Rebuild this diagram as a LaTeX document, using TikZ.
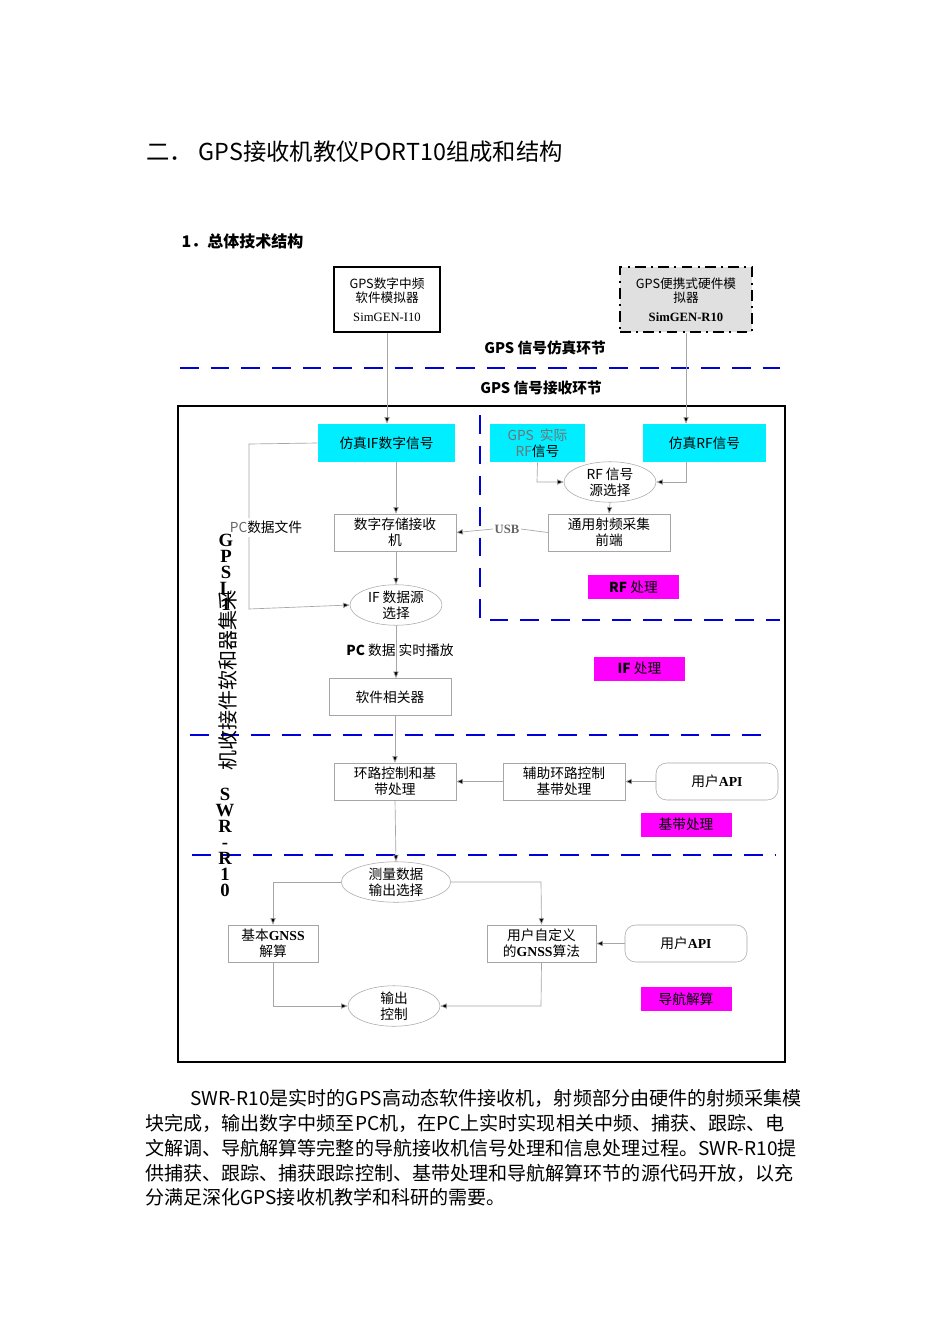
\documentclass[tikz,border=0pt]{standalone}
\usepackage{fontspec}
\setmainfont{Liberation Serif}
\newfontfamily\cjk{Noto Sans CJK SC}
\usetikzlibrary{shapes.geometric,arrows.meta}
\definecolor{cy}{RGB}{0,238,255}
\definecolor{mg}{RGB}{255,0,255}
\begin{document}
\begin{tikzpicture}[x=0.75pt,y=-0.75pt,
  every node/.style={font=\cjk\fontsize{10.3}{12}\selectfont, align=center, inner sep=1pt},
  wbox/.style={draw=black!35, fill=white, minimum width=91.5pt, minimum height=27.75pt},
  cyanbox/.style={fill=cy, minimum width=102.75pt, minimum height=28.5pt},
  magbox/.style={fill=mg, minimum width=68.25pt, minimum height=18pt},
  ell/.style={draw=black!35, ellipse, fill=white, minimum width=69pt, minimum height=26pt, inner sep=0pt},
  apibox/.style={draw=black!35, rounded corners=8pt, fill=white, minimum width=91.5pt, minimum height=27.75pt},
  conn/.style={draw=black!35, line width=0.5pt},
  arr/.style={conn, -{Triangle[length=5pt,width=4pt,fill=black]}},
  sep/.style={draw=blue!85!black, line width=1.3pt, dash pattern=on 14pt off 9pt},
  lat/.style={font=\fontsize{9.5}{11}\selectfont\bfseries}]
\useasboundingbox (0,0) rectangle (950,1344);
\fill[white] (0,0) rectangle (950,1344);
\node[anchor=west,font=\cjk\fontsize{17.5}{20}\selectfont] (title) at (145,152) {二．\ GPS接收机教仪PORT10组成和结构};
\node[anchor=west,font=\cjk\fontsize{12}{14}\selectfont\bfseries] (sub) at (180,241) {1．总体技术结构};
% simulators
\node[draw, line width=2.2pt, minimum width=79.5pt, minimum height=48.75pt, font=\cjk\fontsize{9.5}{11}\selectfont] (sim1) at (387,299.5) {GPS数字中频\\软件模拟器\\[3pt]{\rmfamily SimGEN-I10}};
\node[draw, fill=black!12, line width=1.6pt, dash pattern=on 8pt off 4pt on 1.5pt off 4pt, minimum width=99pt, minimum height=48.75pt, font=\cjk\fontsize{9.5}{11}\selectfont] (sim2) at (686,299.5) {GPS便携式硬件模\\拟器\\[3pt]{\rmfamily\bfseries SimGEN-R10}};
\node[font=\cjk\fontsize{11}{13}\selectfont\bfseries] (l1) at (545,348) {GPS 信号仿真环节};
\draw[sep] (180,368) -- (780,368);
\node[font=\cjk\fontsize{11}{13}\selectfont\bfseries] (l2) at (541,388) {GPS 信号接收环节};
\draw[line width=2.2pt] (178,406) rectangle (785,1062);
% top row
\node[cyanbox] (ifsig) at (386.5,443) {仿真IF数字信号};
\node[cyanbox, minimum width=71pt] (gpsrf) at (537.5,443) {{\color{black!55}GPS\ \ 实际}\\{\color{black!55}RF}信号};
\node[cyanbox, minimum width=92pt] (simrf) at (704.5,443) {仿真RF信号};
\draw[arr] (sim1.south) -- (ifsig.north -| sim1.south);
\draw[arr] (sim2.south) -- (simrf.north -| sim2.south);
\draw[sep, line width=1.2pt] (480,415) -- (480,620) -- (780,620);
\node[ell] (rfsel) at (610,482) {RF 信号\\源选择};
\node[wbox] (front) at (609,532.5) {通用射频采集\\前端};
\node[wbox] (store) at (395,532.5) {数字存储接收\\机};
\node[lat, text=black!60] (usb) at (507,529) {USB};
\node[magbox] (rfp) at (633.5,587) {{\bfseries RF} 处理};
\draw[arr] (gpsrf.south) -- (537,482) -- (rfsel.west);
\draw[arr] (686,462) -- (686,482) -- (rfsel.east);
\draw[arr] (rfsel.south) -- (front.north);
\draw[arr] (front.west) -- (usb.east) (usb.west) -- (store.east);
\draw[arr] (ifsig.south -| 396,0) -- (store.north -| 396,0);
\node[ell] (ifsel) at (396,605) {IF 数据源\\选择};
\node (pcfile) at (266,527) {{\color{black!60}PC}数据文件};
\coordinate (pa) at (249,518);
\coordinate (pb) at (249,537);
\draw[conn] (ifsig.west) -- (249,444) -- (pa);
\draw[arr] (pb) -- (249,609) -- (ifsel.west);
\draw[arr] (store.south -| ifsel.north) -- (ifsel.north);
\node[wbox] (corr) at (390,697) {软件相关器};
\node (pcplay) at (400,650) {{\bfseries PC} 数据\ 实时播放};
\draw[arr] (ifsel.south) -- (corr.north -| ifsel.south);
\node[magbox] (ifp) at (639.5,668.5) {{\bfseries IF} 处理};
\draw[sep] (190,735) -- (770,735);
% baseband
\node[wbox] (loop) at (395,781.5) {环路控制和基\\带处理};
\node[wbox] (aux) at (564,781.5) {辅助环路控制\\基带处理};
\node[apibox] (api1) at (717,781.5) {用户{\rmfamily\bfseries API}};
\draw[arr] (api1.west) -- (aux.east);
\draw[arr] (aux.west) -- (loop.east);
\draw[arr] (corr.south -| loop.north) -- (loop.north);
\node[magbox] (bbp) at (686,824.5) {基带处理};
\draw[sep] (192,855) -- (775,855);
% navigation
\node[ell, minimum width=82pt] (meas) at (396,882) {测量数据\\输出选择};
\node[wbox, minimum width=67.5pt] (basic) at (273,943.5) {基本{\rmfamily\bfseries GNSS}\\解算};
\node[wbox, minimum width=81.75pt] (user) at (541.5,943.5) {用户自定义\\的{\rmfamily\bfseries GNSS}算法};
\node[apibox] (api2) at (686,943.5) {用户{\rmfamily\bfseries API}};
\node[ell] (outc) at (394,1006) {输出\\控制};
\node[magbox] (navp) at (686,999) {导航解算};
\draw[arr] (loop.south) -- (meas.north);
\draw[arr] (meas.west) -- (273,882) -- (basic.north);
\draw[arr] (meas.east) -- (541,882) -- (user.north);
\draw[arr] (api2.west) -- (user.east);
\draw[arr] (basic.south) -- (273,1006) -- (outc.west);
\draw[arr] (user.south) -- (541,1006) -- (outc.east);
% left labels
\node[font=\rmfamily\bfseries\fontsize{14}{12}\selectfont, align=center] (gl1) at (226,572) {G\\P\\S\\L\\1};
\node[rotate=90, font=\cjk\fontsize{15}{16}\selectfont] (cjkv) at (228,680) {机收接件软和器集采};
\node[font=\rmfamily\bfseries\fontsize{14}{12}\selectfont, align=center] (swr) at (225,842) {S\\W\\R\\-\\R\\1\\0};
% paragraph
\begin{scope}[every node/.style={anchor=west, inner sep=0pt, font=\cjk\fontsize{14.3}{16}\selectfont}]
\node (p1) at (190,1098) {SWR-R10是实时的GPS高动态软件接收机，射频部分由硬件的射频采集模};
\node (p2) at (145,1123) {块完成，输出数字中频至PC机，在PC上实时实现相关中频、捕获、跟踪、电};
\node (p3) at (145,1148) {文解调、导航解算等完整的导航接收机信号处理和信息处理过程。SWR-R10提};
\node (p4) at (145,1173) {供捕获、跟踪、捕获跟踪控制、基带处理和导航解算环节的源代码开放，以充};
\node (p5) at (145,1197) {分满足深化GPS接收机教学和科研的需要。};
\end{scope}
\end{tikzpicture}
\end{document}
